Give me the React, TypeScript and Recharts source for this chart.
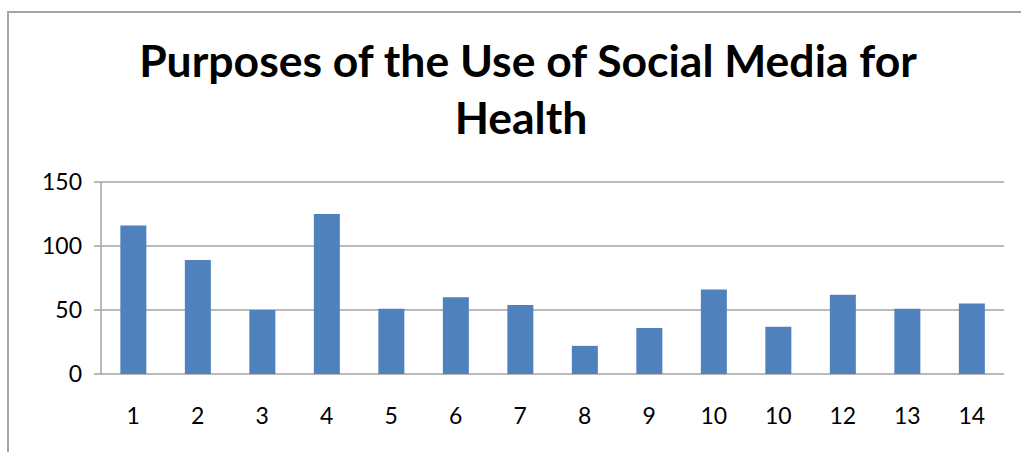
import React from 'react';
import { BarChart, Bar, XAxis, YAxis, CartesianGrid } from 'recharts';

// Survey results: count of respondents per purpose (purposes numbered 1..14)
const purposeLabels = ['1', '2', '3', '4', '5', '6', '7', '8', '9', '10', '10', '12', '13', '14'];
const responseCounts = [116, 89, 50, 125, 51, 60, 54, 22, 36, 66, 37, 62, 51, 55];
const yTicks = [0, 50, 100, 150];
// boundaries between categories, used for the tick marks under the axis
const boundaryTicks = Array.from({ length: purposeLabels.length + 1 }, (_, i) => i);

const chartTitle = ['Purposes of the Use of Social Media for', 'Health'];

const data = purposeLabels.map((label, i) => ({ label, count: responseCounts[i] }));

const FONT = 'Lato, "Open Sans", sans-serif';
const AXIS_GRAY = '#a3a3a3';

export default function App() {
  return (
    <div
      style={{
        position: 'fixed',
        left: 0,
        top: 0,
        width: 1021,
        height: 452,
        overflow: 'hidden',
        background: '#fff',
      }}
    >
      {/* chart frame, only its left and top edges fall inside the view */}
      <div
        style={{
          position: 'absolute',
          left: 7,
          top: 11,
          width: 1100,
          height: 500,
          borderLeft: '2px solid #a5a5a5',
          borderTop: '2px solid #a5a5a5',
        }}
      />
      <svg
        width={1021}
        height={150}
        style={{ position: 'absolute', left: 0, top: 0 }}
      >
        {chartTitle.map((line, i) => (
          <text
            key={i}
            x={i === 0 ? 528 : 521}
            y={77 + i * 57}
            textAnchor="middle"
            fontFamily={FONT}
            fontWeight="bold"
            fontSize={44.5}
            fill="#000"
          >
            {line}
          </text>
        ))}
      </svg>
      <div style={{ position: 'absolute', left: 0, top: 0 }}>
        <BarChart
          width={1021}
          height={452}
          data={data}
          margin={{ top: 182, right: 17, left: 0, bottom: 28 }}
          barCategoryGap="30%"
        >
          <CartesianGrid
            vertical={false}
            stroke={AXIS_GRAY}
            strokeWidth={1.5}
          />
          {/* numeric axis: draws the axis line and ticks at category edges */}
          <XAxis
            xAxisId="edges"
            type="number"
            domain={[0, purposeLabels.length]}
            ticks={boundaryTicks}
            allowDecimals={false}
            height={0}
            tick={false}
            tickSize={8}
            stroke={AXIS_GRAY}
            strokeWidth={1.5}
          />
          <XAxis
            dataKey="label"
            height={50}
            axisLine={false}
            tickLine={false}
            tickSize={0}
            tickMargin={34}
            interval={0}
            tick={{ fill: '#000', fontSize: 23, fontFamily: FONT }}
          />
          <YAxis
            width={101}
            domain={[0, 150]}
            ticks={yTicks}
            tickSize={7}
            tickMargin={12}
            stroke={AXIS_GRAY}
            strokeWidth={1.5}
            tick={{ fill: '#000', fontSize: 23, fontFamily: FONT }}
          />
          <Bar dataKey="count" fill="#4f81bd" isAnimationActive={false} />
        </BarChart>
      </div>
    </div>
  );
}
